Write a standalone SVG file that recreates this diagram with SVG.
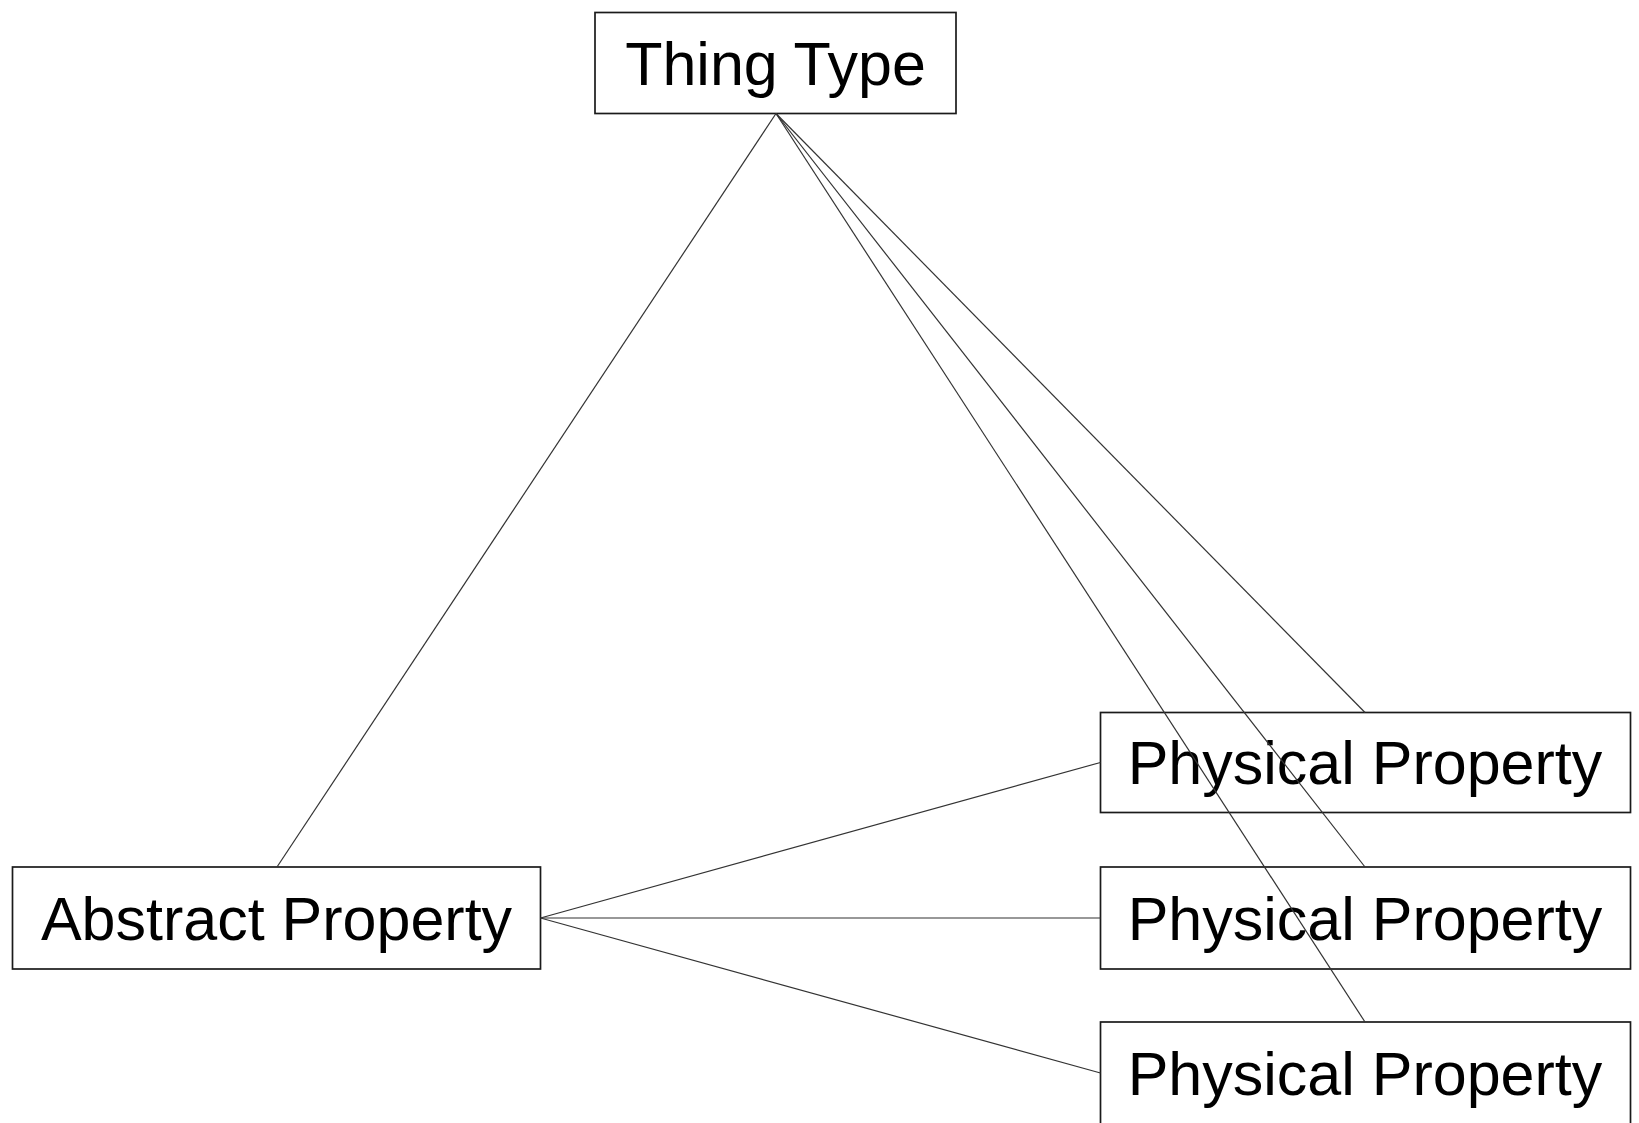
<svg xmlns="http://www.w3.org/2000/svg" width="1639" height="1123" viewBox="0 0 1639 1123">
  <style>
    .box { fill: #ffffff; stroke: #1a1a1a; stroke-width: 1.7; }
    .label { font-family: "Liberation Sans", Arial, sans-serif; font-size: 61px; fill: #000000; text-anchor: middle; }
    .edge { stroke: #333333; stroke-width: 1.2; fill: none; }
  </style>
  <rect width="1639" height="1123" fill="#ffffff"/>

  <g id="thing-type">
    <rect class="box" x="595" y="12.5" width="361" height="101"/>
    <text class="label" x="775.5" y="85">Thing Type</text>
  </g>

  <g id="abstract-property">
    <rect class="box" x="12.5" y="867" width="528" height="102"/>
    <text class="label" x="276.5" y="940">Abstract Property</text>
  </g>

  <g id="physical-property-1">
    <rect class="box" x="1100.5" y="712.5" width="530" height="100"/>
    <text class="label" x="1365" y="784">Physical Property</text>
  </g>

  <g id="physical-property-2">
    <rect class="box" x="1100.5" y="867" width="530" height="102"/>
    <text class="label" x="1365" y="940">Physical Property</text>
  </g>

  <g id="physical-property-3">
    <rect class="box" x="1100.5" y="1022" width="530" height="102"/>
    <text class="label" x="1365" y="1095">Physical Property</text>
  </g>

  <!-- connectors are drawn over the boxes, crossing them where they pass -->
  <g id="connectors">
    <line class="edge" x1="776" y1="113.5" x2="277" y2="867"/>
    <line class="edge" x1="776" y1="113.5" x2="1365" y2="712.5"/>
    <line class="edge" x1="776" y1="113.5" x2="1365" y2="867"/>
    <line class="edge" x1="776" y1="113.5" x2="1365" y2="1022"/>
    <line class="edge" x1="540.5" y1="918" x2="1100.5" y2="762.5"/>
    <line class="edge" x1="540.5" y1="918" x2="1100.5" y2="918"/>
    <line class="edge" x1="540.5" y1="918" x2="1100.5" y2="1073"/>
  </g>
</svg>
